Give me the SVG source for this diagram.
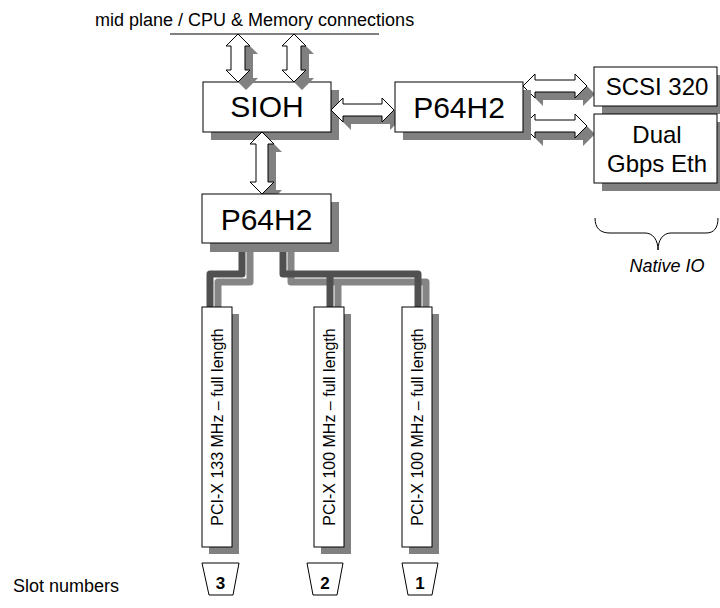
<svg xmlns="http://www.w3.org/2000/svg" width="720" height="608" viewBox="0 0 720 608">
<defs>
<style>
.box{fill:#fff;stroke:#000;stroke-width:1}
.sh{fill:#808080;stroke:none}
.arr{fill:#fff;stroke:#000;stroke-width:1;stroke-linejoin:miter}
.ash{fill:#808080;stroke:none}
.t{font-family:"Liberation Sans",Arial,sans-serif;fill:#000}
.big{font-size:30px;text-anchor:middle}
.mid{font-size:24px;text-anchor:middle}
.slot{font-size:16px;text-anchor:middle}
.num{font-size:17px;font-weight:bold;text-anchor:middle}
.bus{fill:none;stroke:#505050;stroke-width:7;stroke-linejoin:round}
.bsh{fill:none;stroke:#858585;stroke-width:7;stroke-linejoin:round}
</style>
</defs>
<rect width="720" height="608" fill="#fff"/>

<g id="midplane">
<text class="t" x="95" y="26" font-size="18">mid plane / CPU &amp; Memory connections</text>
<line x1="170" y1="34" x2="379" y2="34" stroke="#000" stroke-width="1"/>
</g>

<g id="bus">
<path class="bsh" d="M250,251 V282 H218 V314"/>
<path class="bsh" d="M291,251 V282 H426 V314"/>
<path class="bsh" d="M338,282 V314"/>
<path class="bus" d="M242,243 V274 H210 V307"/>
<path class="bus" d="M283,243 V274 H418 V307"/>
<path class="bus" d="M330,274 V307"/>
</g>

<g id="sioh">
<rect class="sh" x="211" y="90" width="128" height="50"/>
<rect class="box" x="203" y="82" width="128" height="50"/>
<text class="t big" x="267" y="117">SIOH</text>
</g>

<g id="connectors">
<path class="ash" transform="translate(8,8)" d="M238,34 L250,46 L245,46 L245,70 L250,70 L238,82 L226,70 L231,70 L231,46 L226,46 Z"/>
<path class="arr" d="M238,34 L250,46 L245,46 L245,70 L250,70 L238,82 L226,70 L231,70 L231,46 L226,46 Z"/>
<path class="ash" transform="translate(8,8)" d="M294,34 L306,46 L301,46 L301,70 L306,70 L294,82 L282,70 L287,70 L287,46 L282,46 Z"/>
<path class="arr" d="M294,34 L306,46 L301,46 L301,70 L306,70 L294,82 L282,70 L287,70 L287,46 L282,46 Z"/>
<path class="ash" transform="translate(8,8)" d="M262,132 L274,144 L268,144 L268,182 L274,182 L262,194 L250,182 L256,182 L256,144 L250,144 Z"/>
<path class="arr" d="M262,132 L274,144 L268,144 L268,182 L274,182 L262,194 L250,182 L256,182 L256,144 L250,144 Z"/>
<path class="ash" transform="translate(8,8)" d="M331,110 L343,98 L343,104 L382,104 L382,98 L394,110 L382,122 L382,116 L343,116 L343,122 Z"/>
<path class="arr" d="M331,110 L343,98 L343,104 L382,104 L382,98 L394,110 L382,122 L382,116 L343,116 L343,122 Z"/>
<path class="ash" transform="translate(8,8)" d="M523,86 L535,74 L535,80 L575,80 L575,74 L587,86 L575,98 L575,92 L535,92 L535,98 Z"/>
<path class="arr" d="M523,86 L535,74 L535,80 L575,80 L575,74 L587,86 L575,98 L575,92 L535,92 L535,98 Z"/>
<path class="ash" transform="translate(8,8)" d="M523,126 L535,114 L535,120 L575,120 L575,114 L587,126 L575,138 L575,132 L535,132 L535,138 Z"/>
<path class="arr" d="M523,126 L535,114 L535,120 L575,120 L575,114 L587,126 L575,138 L575,132 L535,132 L535,138 Z"/>
</g>

<g id="p64h2-top">
<rect class="sh" x="403" y="90" width="128" height="50"/>
<rect class="box" x="395" y="82" width="128" height="50"/>
<text class="t big" x="459" y="118">P64H2</text>
</g>

<g id="p64h2-low">
<rect class="sh" x="210" y="202" width="129" height="50"/>
<rect class="box" x="202" y="194" width="129" height="49"/>
<text class="t big" x="266.5" y="230">P64H2</text>
</g>

<g id="scsi">
<rect class="sh" x="602" y="75" width="123" height="39"/>
<rect class="box" x="594" y="67" width="123" height="39"/>
<text class="t mid" x="657" y="95">SCSI 320</text>
</g>

<g id="eth">
<rect class="sh" x="602" y="122" width="123" height="69"/>
<rect class="box" x="594" y="114" width="123" height="69"/>
<text class="t mid" x="657" y="143">Dual</text>
<text class="t mid" x="657" y="172">Gbps Eth</text>
</g>

<g id="native-io">
<path d="M595,218 C595,228 600,233 610,233 L645,233 C653,233 658,240 658,250 C658,240 663,233 671,233 L706,233 C714,233 718,228 718,218" fill="none" stroke="#000" stroke-width="1"/>
<text class="t" x="667" y="272" font-size="18" font-style="italic" text-anchor="middle">Native IO</text>
</g>

<g id="slot3">
<rect class="sh" x="209" y="314" width="30" height="240"/>
<rect class="box" x="202" y="307" width="30" height="240"/>
<text class="t slot" x="223" y="427" transform="rotate(-90 223 427)">PCI-X 133 MHz – full length</text>
</g>

<g id="slot2">
<rect class="sh" x="321" y="314" width="30" height="240"/>
<rect class="box" x="314" y="307" width="30" height="240"/>
<text class="t slot" x="335" y="427" transform="rotate(-90 335 427)">PCI-X 100 MHz – full length</text>
</g>

<g id="slot1">
<rect class="sh" x="409" y="314" width="30" height="240"/>
<rect class="box" x="402" y="307" width="30" height="240"/>
<text class="t slot" x="423" y="427" transform="rotate(-90 423 427)">PCI-X 100 MHz – full length</text>
</g>

<g id="slot-numbers">
<text class="t" x="13" y="592" font-size="18">Slot numbers</text>
<path class="box" d="M202,563 H239 L233,595 H209 Z"/>
<text class="t num" x="220.5" y="589">3</text>
<path class="box" d="M307,563 H343 L337,595 H313 Z"/>
<text class="t num" x="325" y="589">2</text>
<path class="box" d="M402,563 H438 L432,595 H408 Z"/>
<text class="t num" x="420" y="589">1</text>
</g>
</svg>
